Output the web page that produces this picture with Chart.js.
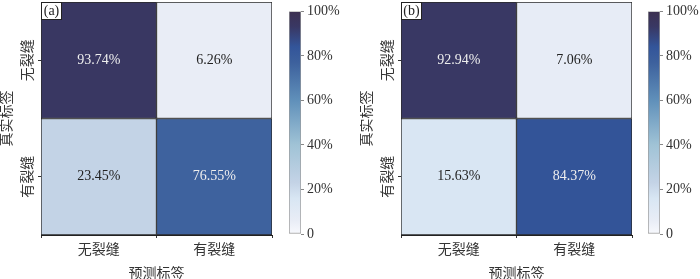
<!DOCTYPE html>
<html>
<head>
<meta charset="utf-8">
<script src="https://cdn.jsdelivr.net/npm/chart.js@4.4.0/dist/chart.umd.min.js"></script>
<style>
  html, body { margin: 0; padding: 0; background: #fff; }
  #wrap { position: relative; width: 700px; height: 279px; overflow: hidden; }
  #wrap canvas { position: absolute; top: 0; }
</style>
</head>
<body>
<div id="wrap">
  <canvas id="cmA" width="280" height="279" style="left:0"></canvas>
  <canvas id="cbA" width="70" height="279" style="left:280px"></canvas>
  <canvas id="cmB" width="280" height="279" style="left:360px"></canvas>
  <canvas id="cbB" width="60" height="279" style="left:640px"></canvas>
</div>
<script>
// Data
const predLabels = ['无裂缝', '有裂缝'];
const trueLabels = ['无裂缝', '有裂缝'];
const matrixA = [[93.74, 6.26], [23.45, 76.55]];
const matrixB = [[92.94, 7.06], [15.63, 84.37]];
const colorbarTicks = [0, 20, 40, 60, 80, 100];
const panelTags = ['(a)', '(b)'];

const FONT = '"Liberation Serif", "Noto Sans CJK SC", serif';
Chart.defaults.font.family = FONT;
Chart.defaults.font.size = 14;
Chart.defaults.color = '#333';

// Colormap (white -> light blue -> steel blue -> navy -> dark purple)
const cmap = [
  [0.00, [248, 249, 253]],
  [0.06, [233, 237, 246]],
  [0.16, [216, 230, 243]],
  [0.23, [196, 211, 230]],
  [0.40, [160, 195, 214]],
  [0.60, [96, 144, 186]],
  [0.77, [61, 97, 157]],
  [0.84, [51, 85, 154]],
  [0.93, [57, 56, 100]],
  [1.00, [60, 48, 80]]
];

function colorAt(t) {
  t = Math.max(0, Math.min(1, t));
  for (let k = 1; k < cmap.length; k++) {
    if (t <= cmap[k][0]) {
      const [t0, c0] = cmap[k - 1];
      const [t1, c1] = cmap[k];
      const f = (t - t0) / (t1 - t0);
      const c = c0.map((v, n) => Math.round(v + (c1[n] - v) * f));
      return `rgb(${c[0]}, ${c[1]}, ${c[2]})`;
    }
  }
  return `rgb(${cmap[cmap.length - 1][1].join(',')})`;
}

// Write the percentage in the middle of each cell
const cellText = {
  id: 'cellText',
  afterDatasetsDraw(chart) {
    const ctx = chart.ctx;
    ctx.save();
    ctx.font = '14px ' + FONT;
    ctx.textAlign = 'center';
    ctx.textBaseline = 'middle';
    chart.data.datasets.forEach((ds, i) => {
      chart.getDatasetMeta(i).data.forEach((bar, j) => {
        const v = ds.values[j];
        ctx.fillStyle = v > 50 ? '#eeeeee' : '#222';
        ctx.fillText(v.toFixed(2) + '%', bar.x, (bar.y + bar.base) / 2);
      });
    });
    ctx.restore();
  }
};

// "(a)" / "(b)" box in the top-left corner
const tagBox = {
  id: 'tagBox',
  afterDraw(chart, args, opts) {
    const { left, top } = chart.chartArea;
    const ctx = chart.ctx;
    ctx.save();
    ctx.fillStyle = '#fff';
    ctx.fillRect(left, top, 21, 18);
    ctx.strokeStyle = '#222';
    ctx.lineWidth = 1;
    ctx.strokeRect(left + 0.5, top + 0.5, 20, 17);
    ctx.fillStyle = '#222';
    ctx.font = '14px ' + FONT;
    ctx.textAlign = 'center';
    ctx.textBaseline = 'middle';
    ctx.fillText(opts.text, left + 10.5, top + 9.5);
    ctx.restore();
  }
};

function makeMatrix(id, matrix, tag) {
  const n = trueLabels.length;
  const datasets = trueLabels.map((row, i) => ({
    label: row,
    data: matrix[i].map(() => [n - 1 - i, n - i]),
    values: matrix[i],
    backgroundColor: matrix[i].map(v => colorAt(v / 100)),
    borderColor: '#2a2a2a',
    borderWidth: 1,
    borderSkipped: false,
    barPercentage: 1,
    categoryPercentage: 1,
    grouped: false
  }));

  new Chart(document.getElementById(id), {
    type: 'bar',
    data: { labels: predLabels, datasets },
    options: {
      responsive: false,
      animation: false,
      layout: { padding: { left: 0, right: 8, top: 2, bottom: 0 } },
      plugins: {
        legend: { display: false },
        tooltip: { enabled: false },
        tagBox: { text: tag }
      },
      scales: {
        x: {
          grid: { display: true, drawOnChartArea: false, tickLength: 3, color: '#333' },
          border: { color: '#222', width: 1 },
          ticks: { padding: 4 },
          title: { display: true, text: '预测标签', padding: { top: 0, bottom: -4 } },
          afterFit: s => { s.height = 44; }
        },
        y: {
          min: 0,
          max: n,
          afterBuildTicks: s => { s.ticks = trueLabels.map((_, i) => ({ value: n - 0.5 - i })); },
          grid: { display: true, drawOnChartArea: false, tickLength: 3, color: '#333' },
          border: { color: '#222', width: 1 },
          ticks: {
            callback: (v, i) => trueLabels[i],
            minRotation: 90,
            maxRotation: 90,
            crossAlign: 'center',
            padding: -11
          },
          title: { display: true, text: '真实标签', padding: { top: -1, bottom: 0 } },
          afterFit: s => { s.width = 41; }
        }
      }
    },
    plugins: [cellText, tagBox]
  });
}

function makeColorbar(id, padLeft, axisWidth) {
  new Chart(document.getElementById(id), {
    type: 'bar',
    data: {
      labels: [''],
      datasets: [{
        data: [[colorbarTicks[0], colorbarTicks[colorbarTicks.length - 1]]],
        backgroundColor: c => {
          const area = c.chart.chartArea;
          if (!area) return colorAt(0.5);
          const g = c.chart.ctx.createLinearGradient(0, area.bottom, 0, area.top);
          cmap.forEach(([t]) => g.addColorStop(t, colorAt(t)));
          return g;
        },
        borderColor: '#999',
        borderWidth: 1,
        borderSkipped: false,
        barPercentage: 1,
        categoryPercentage: 1
      }]
    },
    options: {
      responsive: false,
      animation: false,
      layout: { padding: { left: padLeft, right: 0, top: 3, bottom: 45 } },
      plugins: { legend: { display: false }, tooltip: { enabled: false } },
      scales: {
        x: { display: false },
        y: {
          position: 'right',
          min: colorbarTicks[0],
          max: colorbarTicks[colorbarTicks.length - 1],
          afterBuildTicks: s => { s.ticks = colorbarTicks.map(v => ({ value: v })); },
          grid: { drawOnChartArea: false, tickLength: 3, color: '#888' },
          border: { display: false },
          ticks: { padding: 3, callback: v => (v === 0 ? '0' : v + '%') },
          afterFit: s => { s.width = axisWidth; }
        }
      }
    }
  });
}

makeMatrix('cmA', matrixA, panelTags[0]);
makeColorbar('cbA', 9, 49);
makeMatrix('cmB', matrixB, panelTags[1]);
makeColorbar('cbB', 8, 40);
</script>
</body>
</html>
